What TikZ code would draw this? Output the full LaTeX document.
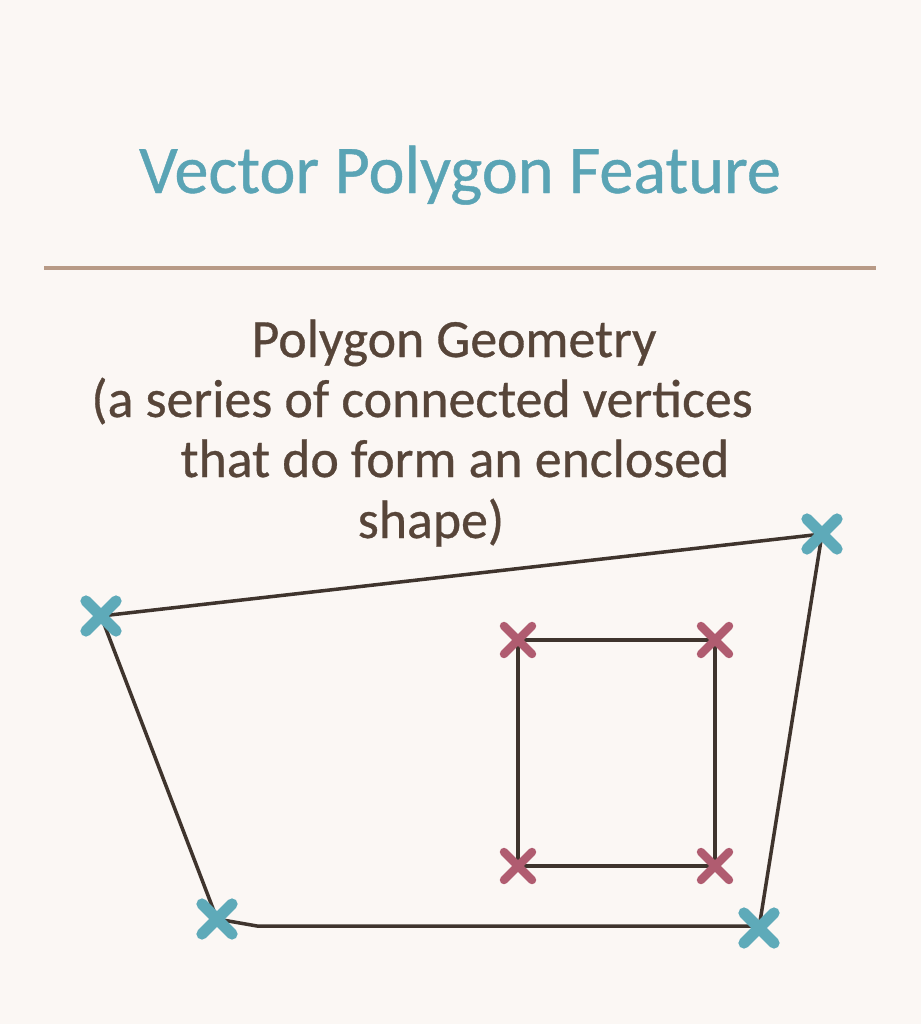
\documentclass[tikz,border=0pt]{standalone}
\usepackage{xcolor}
\usepackage{fontspec}
\setmainfont{Carlito}
\newfontfamily\heavyfont{Carlito}[FakeBold=0.6]
\usepackage{tikz}

\definecolor{paper}{HTML}{FBF7F4}
\definecolor{titleteal}{HTML}{5AA4B5}
\definecolor{vertteal}{HTML}{5EAAB9}
\definecolor{vertrose}{HTML}{B05C70}
\definecolor{edgebrown}{HTML}{3F342D}
\definecolor{textbrown}{HTML}{574539}
\definecolor{rulebrown}{HTML}{B89A86}

\begin{document}
\begin{tikzpicture}[x=0.01cm, y=0.01cm]
	\tikzstyle{every node}+=[inner sep=0pt]
	\tikzstyle{edge}=[edgebrown, line width=1pt, line join=round]
	\tikzstyle{outerx}=[vertteal, line cap=round, line width=3.2pt]
	\tikzstyle{innerx}=[vertrose, line cap=round, line width=2.4pt]
	\tikzstyle{caption}=[textbrown, font=\heavyfont\fontsize{15.3}{18}\selectfont, anchor=base]
	\fill [paper] (0,0) rectangle (921,-1024);
	% title and rule
	\node (title) [titleteal, font=\heavyfont\fontsize{19.4}{23}\selectfont, anchor=base] at (460,-193) {Vector Polygon Feature};
	\draw [rulebrown, line width=1.1pt] (44,-268) -- (876,-268);
	\node (cap1) [caption] at (454,-357) {Polygon Geometry};
	\node (cap2) [caption] at (422,-417) {(a series of connected vertices};
	\node (cap3) [caption] at (455,-477) {that do form an enclosed};
	\node (cap4) [caption] at (431,-538) {shape)};
	% outer ring
	\coordinate (p1) at (101,-616);
	\coordinate (p2) at (822,-534);
	\coordinate (p3) at (759,-928);
	\coordinate (p4) at (217,-919);
	\coordinate (k) at (257,-926);
	\draw [edge] (p1) -- (p2) -- (p3) -- (k -| p3) -- (k) -- (p4) -- cycle;
	% inner ring
	\coordinate (q1) at (518,-640);
	\coordinate (q2) at (715,-640);
	\coordinate (q3) at (715,-866);
	\coordinate (q4) at (518,-866);
	\draw [edge] (q1) -- (q2) -- (q3) -- (q4) -- cycle;
	% vertex marks
	\foreach \p in {p1,p2,p3,p4}
		\draw [outerx] ([shift={(-15,-15)}]\p) -- ([shift={(15,15)}]\p)
			([shift={(-15,15)}]\p) -- ([shift={(15,-15)}]\p);
	\foreach \q in {q1,q2,q3,q4}
		\draw [innerx] ([shift={(-14,-14)}]\q) -- ([shift={(14,14)}]\q)
			([shift={(-14,14)}]\q) -- ([shift={(14,-14)}]\q);
\end{tikzpicture}
\end{document}
